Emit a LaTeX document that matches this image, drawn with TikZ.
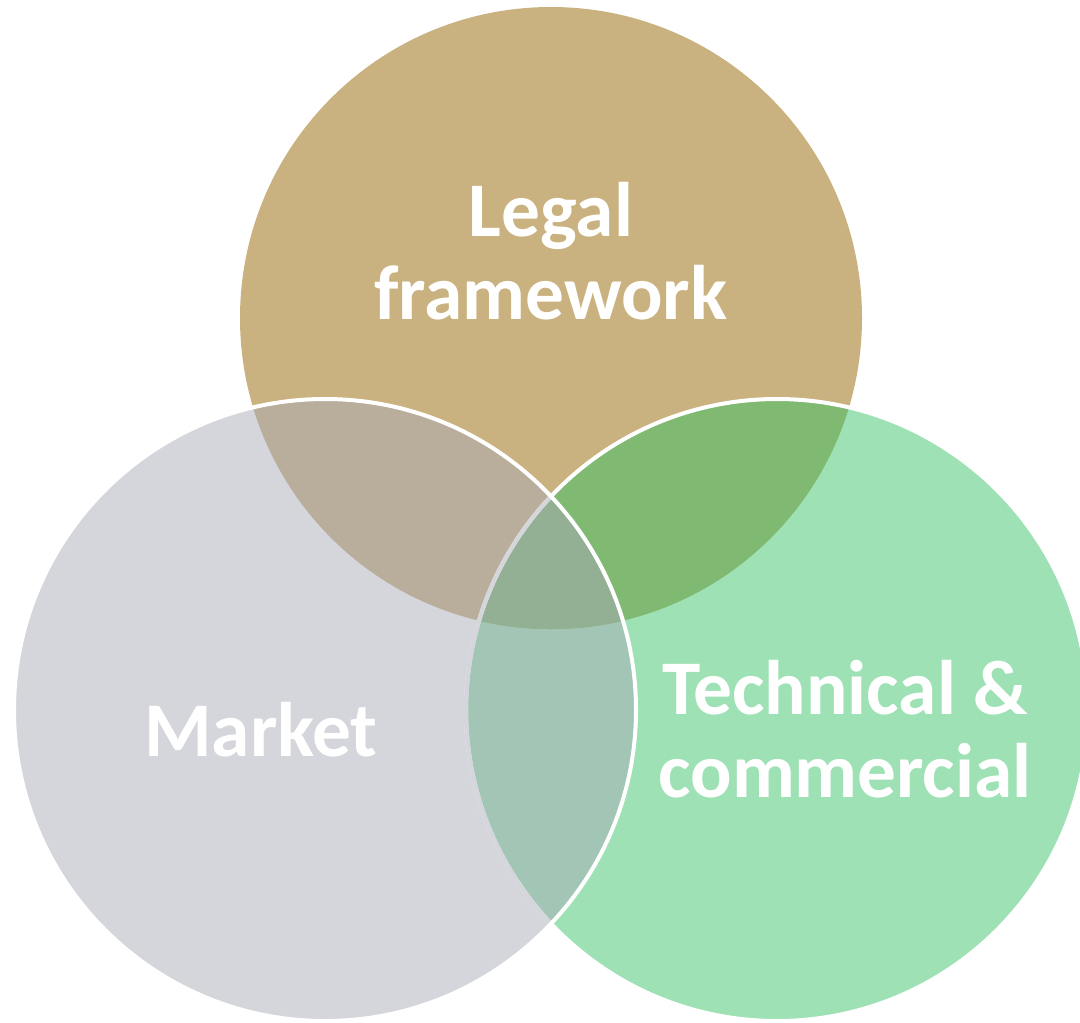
\documentclass[tikz,border=0pt]{standalone}
\usepackage{fontspec}
\setmainfont{Carlito}
\definecolor{legalfill}{HTML}{CAB280}
\definecolor{marketfill}{HTML}{D5D6DB}
\definecolor{techfill}{HTML}{9DE1B4}
\definecolor{legalmarket}{HTML}{B9AD9B}
\definecolor{legaltech}{HTML}{80B972}
\definecolor{markettech}{HTML}{A3C5B5}
\definecolor{allthree}{HTML}{93B094}
\tikzstyle{venntext} = [text=white, font=\bfseries\fontsize{58}{62}\selectfont,
    align=center, inner sep=0pt]
\tikzstyle{rim} = [draw=white, line width=3pt]
\tikzstyle{innerrim} = [draw=marketfill, line width=3.2pt]
\begin{document}
\begin{tikzpicture}[x=0.75pt, y=-0.75pt]
    \useasboundingbox (0,0) rectangle (1080,1022);
    \clip (0,0) rectangle (1080,1022);
    % Place circles
    \coordinate (legal) at (551,318);
    \coordinate (market) at (325,710);
    \coordinate (tech) at (777,710);
    \fill [legalfill] (legal) circle [radius=233.25pt];
    \fill [marketfill] (market) circle [radius=233.25pt];
    \fill [techfill] (tech) circle [radius=233.25pt];

    % Overlaps
    \begin{scope}
        \clip (market) circle [radius=233.25pt];
        \fill [markettech] (tech) circle [radius=233.25pt];
    \end{scope}
    \begin{scope}
        \clip (legal) circle [radius=233.25pt];
        \fill [legalmarket] (market) circle [radius=233.25pt];
        \fill [legaltech] (tech) circle [radius=233.25pt];
        \clip (market) circle [radius=233.25pt];
        \fill [allthree] (tech) circle [radius=233.25pt];
    \end{scope}

    % Draw rims
    \draw [rim] (tech) circle [radius=233.25pt];
    \begin{scope}
        \clip (market) circle [radius=233.25pt];
        \draw [innerrim] (tech) circle [radius=233.25pt];
    \end{scope}
    \draw [rim] (market) circle [radius=233.25pt];

    % Place labels
    \node [venntext] (legaltext) at (551,251) {Legal\\framework};
    \node [venntext] (markettext) at (261,730) {Market};
    \node [venntext] (techtext) at (845,729) {Technical \&\\commercial};
\end{tikzpicture}
\end{document}
